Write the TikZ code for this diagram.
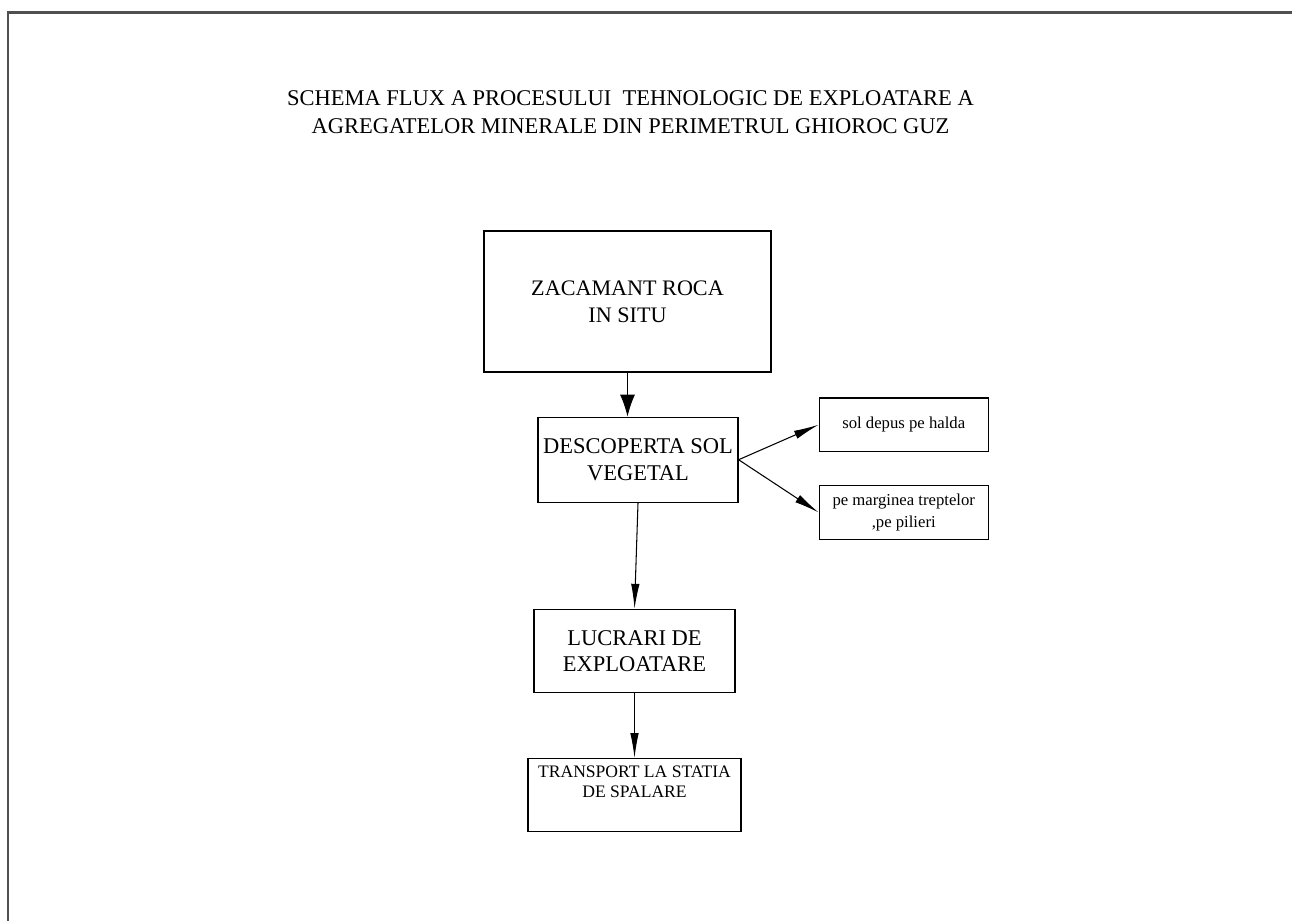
\documentclass[tikz,border=0pt]{standalone}
\usepackage{fontspec}
\setmainfont{Liberation Serif}
\usepackage{xcolor}
\usetikzlibrary{arrows.meta, positioning}
\definecolor{pageframe}{RGB}{80,80,80}

\begin{document}
\begin{tikzpicture}[
    node distance=0.8cm,
    box/.style={rectangle, draw, line width=0.7pt, align=center, inner sep=2pt, font=\fontsize{12.8}{15}\selectfont},
    smallbox/.style={rectangle, draw, line width=0.7pt, align=center, inner sep=2pt, minimum width=3.38cm, minimum height=1.07cm, font=\fontsize{9.5}{12}\selectfont},
    arrow/.style={-{Latex[length=0.5cm, width=0.17cm]}, line width=0.6pt},
    bigarrow/.style={-{Latex[length=0.44cm, width=0.3cm]}, line width=0.6pt}
]

% Page
\useasboundingbox (0,0) rectangle (25.84,-18.42);
\draw[pageframe, line width=1.2pt] (25.84,-0.25) -- (0.16,-0.25) -- (0.16,-18.42);

% Title
\node[font=\fontsize{12.8}{16}\selectfont, align=center] (title) at (12.61,-2.24) {SCHEMA FLUX A PROCESULUI\ \ TEHNOLOGIC DE EXPLOATARE A\\AGREGATELOR MINERALE DIN PERIMETRUL GHIOROC GUZ};

% Main flow
\node[box, font=\fontsize{12.6}{15.5}\selectfont, minimum width=5.74cm, minimum height=2.82cm] (zacamant) at (12.55,-6.03) {ZACAMANT ROCA\\IN SITU};
\node[box, minimum width=4cm, minimum height=1.7cm, below=0.88cm of zacamant, xshift=0.21cm] (descoperta) {DESCOPERTA SOL\\VEGETAL};
\node[box, minimum width=4.02cm, minimum height=1.66cm, below=2.12cm of descoperta, xshift=-0.07cm] (lucrari) {LUCRARI DE\\EXPLOATARE};
\node[box, font=\fontsize{10}{11.5}\selectfont, minimum width=4.26cm, minimum height=1.46cm, below=1.3cm of lucrari] (transport) {TRANSPORT LA STATIA\\DE SPALARE\\ \strut};

% Soil
\node[smallbox, right=1.6cm of descoperta, yshift=0.7cm] (halda) {sol depus pe halda};
\node[smallbox, below=0.66cm of halda] (trepte) {pe marginea treptelor\\,pe pilieri};

% Arrows
\draw[bigarrow] (zacamant.south) -- (zacamant.south |- descoperta.north);
\draw[arrow] (descoperta.south) -- (lucrari.north);
\draw[arrow] (lucrari.south) -- (transport.north);
\draw[arrow] (descoperta.east) -- (halda.west);
\draw[arrow] (descoperta.east) -- (trepte.west);

\end{tikzpicture}
\end{document}
